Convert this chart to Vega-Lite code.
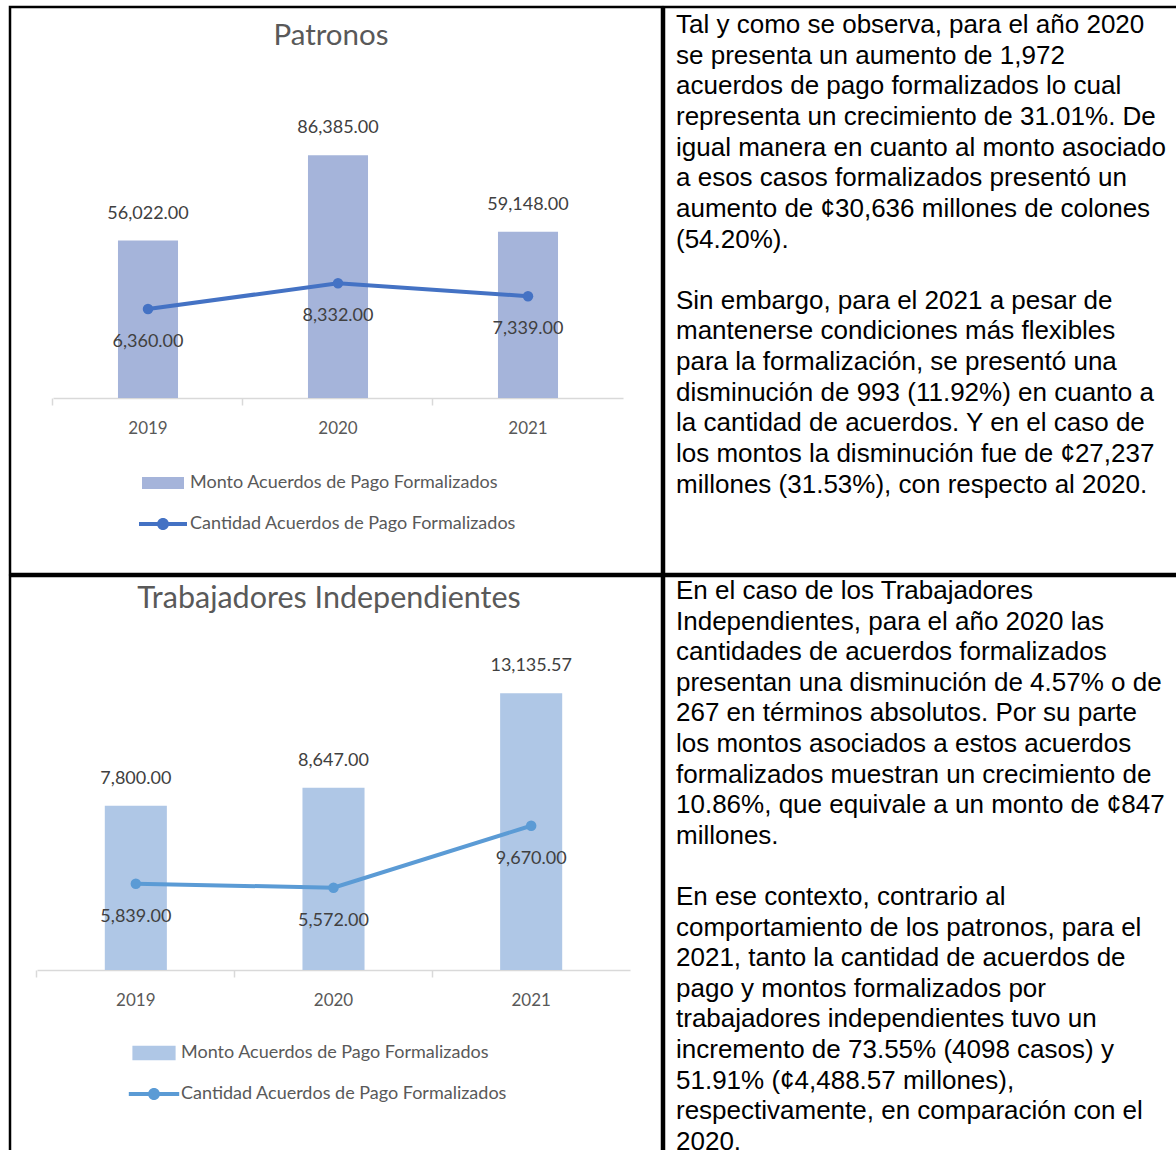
{
  "$schema": "https://vega.github.io/schema/vega-lite/v6.json",
  "padding": {"left": 8, "top": 5, "right": 0, "bottom": 0},
  "background": "white",
  "config": {
    "view": {"stroke": "black", "strokeWidth": 2.5},
    "font": "Lato"
  },
  "datasets": {
    "patronos": [
      {"anio": "2019", "monto": 56022.00, "cantidad": 6360},
      {"anio": "2020", "monto": 86385.00, "cantidad": 8332},
      {"anio": "2021", "monto": 59148.00, "cantidad": 7339}
    ],
    "independientes": [
      {"anio": "2019", "monto": 7800.00, "cantidad": 5839},
      {"anio": "2020", "monto": 8647.00, "cantidad": 5572},
      {"anio": "2021", "monto": 13135.57, "cantidad": 9670}
    ],
    "texto1": [
      {"linea": 0, "texto": "Tal y como se observa, para el año 2020"},
      {"linea": 1, "texto": "se presenta un aumento de 1,972"},
      {"linea": 2, "texto": "acuerdos de pago formalizados lo cual"},
      {"linea": 3, "texto": "representa un crecimiento de 31.01%. De"},
      {"linea": 4, "texto": "igual manera en cuanto al monto asociado"},
      {"linea": 5, "texto": "a esos casos formalizados presentó un"},
      {"linea": 6, "texto": "aumento de ¢30,636 millones de colones"},
      {"linea": 7, "texto": "(54.20%)."},
      {"linea": 9, "texto": "Sin embargo, para el 2021 a pesar de"},
      {"linea": 10, "texto": "mantenerse condiciones más flexibles"},
      {"linea": 11, "texto": "para la formalización, se presentó una"},
      {"linea": 12, "texto": "disminución de 993 (11.92%) en cuanto a"},
      {"linea": 13, "texto": "la cantidad de acuerdos. Y en el caso de"},
      {"linea": 14, "texto": "los montos la disminución fue de ¢27,237"},
      {"linea": 15, "texto": "millones (31.53%), con respecto al 2020."}
    ],
    "texto2": [
      {"linea": 0, "texto": "En el caso de los Trabajadores"},
      {"linea": 1, "texto": "Independientes, para el año 2020 las"},
      {"linea": 2, "texto": "cantidades de acuerdos formalizados"},
      {"linea": 3, "texto": "presentan una disminución de 4.57% o de"},
      {"linea": 4, "texto": "267 en términos absolutos. Por su parte"},
      {"linea": 5, "texto": "los montos asociados a estos acuerdos"},
      {"linea": 6, "texto": "formalizados muestran un crecimiento de"},
      {"linea": 7, "texto": "10.86%, que equivale a un monto de ¢847"},
      {"linea": 8, "texto": "millones."},
      {"linea": 10, "texto": "En ese contexto, contrario al"},
      {"linea": 11, "texto": "comportamiento de los patronos, para el"},
      {"linea": 12, "texto": "2021, tanto la cantidad de acuerdos de"},
      {"linea": 13, "texto": "pago y montos formalizados por"},
      {"linea": 14, "texto": "trabajadores independientes tuvo un"},
      {"linea": 15, "texto": "incremento de 73.55% (4098 casos) y"},
      {"linea": 16, "texto": "51.91% (¢4,488.57 millones),"},
      {"linea": 17, "texto": "respectivamente, en comparación con el"},
      {"linea": 18, "texto": "2020."}
    ]
  },
  "spacing": -3,
  "resolve": {"scale": {"color": "independent"}, "legend": {"color": "independent"}},
  "vconcat": [
    {
      "spacing": -3,
      "resolve": {"scale": {"color": "independent"}, "legend": {"color": "independent"}},
      "hconcat": [
        {
          "width": 652,
          "height": 567,
          "data": {"name": "patronos"},
          "title": {"text": "Patronos", "offset": -44, "fontSize": 29.5, "font": "Lato", "color": "#595959", "fontWeight": "normal", "anchor": "middle", "dx": -5},
          "layer": [
            {
              "mark": {"type": "bar", "color": "#A5B4DA"},
              "encoding": {
                "x": {
                  "field": "anio", "type": "nominal",
                  "scale": {"range": [43, 613], "paddingInner": 0.684, "paddingOuter": 0.342},
                  "axis": {"title": null, "orient": "bottom", "offset": -176, "domainColor": "#D9D9D9", "domainWidth": 1.5, "ticks": false, "labelPadding": 22, "labelFontSize": 17, "labelColor": "#595959", "labelFont": "Lato", "labelAngle": 0, "grid": false}
                },
                "y": {"field": "monto", "type": "quantitative", "scale": {"domain": [0, 100000], "range": [391, 110]}, "axis": null},
                "color": {
                  "datum": "Monto Acuerdos de Pago Formalizados",
                  "scale": {"domain": ["Monto Acuerdos de Pago Formalizados", "Cantidad Acuerdos de Pago Formalizados"], "range": ["#A5B4DA", "#4472C4"]},
                  "legend": {
                    "orient": "none", "legendX": 141, "legendY": 464, "title": null, "padding": 0,
                    "symbolSize": 576, "labelOffset": 15, "rowPadding": 20,
                    "labelFont": "Lato", "labelFontSize": 18, "labelColor": "#595959", "labelLimit": 600,
                    "encode": {"symbols": {"update": {
                      "shape": {"signal": "datum.value === 'Monto Acuerdos de Pago Formalizados' ? 'M-1.75,-0.5H1.75V0.5H-1.75Z' : 'M-2,-0.16H2V0.16H-2Z M-0.5,0A0.5,0.5 0 1,1 0.5,0A0.5,0.5 0 1,1 -0.5,0Z'"},
                      "fill": {"signal": "datum.value === 'Monto Acuerdos de Pago Formalizados' ? '#A5B4DA' : '#4472C4'"},
                      "strokeWidth": {"value": 0},
                      "opacity": {"value": 1}
                    }}}
                  }
                }
              }
            },
            {
              "mark": {"type": "text", "dy": -27, "fontSize": 18, "color": "#404040", "font": "Lato"},
              "encoding": {
                "x": {"field": "anio", "type": "nominal", "axis": null},
                "y": {"field": "monto", "type": "quantitative", "scale": {"domain": [0, 100000], "range": [391, 110]}, "axis": null},
                "text": {"field": "monto", "type": "quantitative", "format": ",.2f"}
              }
            },
            {
              "mark": {"type": "line", "strokeWidth": 4, "point": {"size": 110, "filled": true}},
              "encoding": {
                "x": {"field": "anio", "type": "nominal", "axis": null},
                "y": {"field": "cantidad", "type": "quantitative", "scale": {"domain": [0, 20000], "range": [385, 124]}, "axis": null},
                "color": {"datum": "Cantidad Acuerdos de Pago Formalizados"}
              }
            },
            {
              "mark": {"type": "text", "dy": 33, "fontSize": 18, "color": "#404040", "font": "Lato"},
              "encoding": {
                "x": {
                  "field": "anio", "type": "nominal",
                  "axis": {"title": null, "orient": "bottom", "offset": -176, "domain": false, "labels": false, "ticks": true, "tickSize": 7, "tickColor": "#D9D9D9", "tickWidth": 1.5, "bandPosition": -1.083, "grid": false}
                },
                "y": {"field": "cantidad", "type": "quantitative", "scale": {"domain": [0, 20000], "range": [385, 124]}, "axis": null},
                "text": {"field": "cantidad", "type": "quantitative", "format": ",.2f"}
              }
            }
          ],
          "resolve": {"scale": {"y": "independent"}, "axis": {"x": "independent"}}
        },
        {
          "width": 520,
          "height": 567,
          "data": {"name": "texto1"},
          "mark": {"type": "text", "align": "left", "baseline": "middle", "font": "Liberation Sans", "fontSize": 26, "color": "black", "dx": 12},
          "encoding": {
            "x": {"datum": 0, "type": "quantitative", "scale": {"domain": [0, 1]}, "axis": null},
            "y": {"field": "linea", "type": "quantitative", "scale": {"domain": [-0.587, 17.913], "reverse": true, "nice": false, "zero": false}, "axis": null},
            "text": {"field": "texto"}
          }
        }
      ]
    },
    {
      "spacing": -3,
      "resolve": {"scale": {"color": "independent"}, "legend": {"color": "independent"}},
      "hconcat": [
        {
          "width": 652,
          "height": 600,
          "data": {"name": "independientes"},
          "title": {"text": "Trabajadores Independientes", "offset": -38, "fontSize": 30.5, "font": "Lato", "color": "#595959", "fontWeight": "normal", "anchor": "middle", "dx": -7},
          "layer": [
            {
              "mark": {"type": "bar", "color": "#AFC7E6"},
              "encoding": {
                "x": {
                  "field": "anio", "type": "nominal",
                  "scale": {"range": [27, 620], "paddingInner": 0.686, "paddingOuter": 0.343},
                  "axis": {"title": null, "orient": "bottom", "offset": -206, "domainColor": "#D9D9D9", "domainWidth": 1.5, "ticks": false, "labelPadding": 22, "labelFontSize": 17, "labelColor": "#595959", "labelFont": "Lato", "labelAngle": 0, "grid": false}
                },
                "y": {"field": "monto", "type": "quantitative", "scale": {"domain": [0, 15000], "range": [394, 78]}, "axis": null},
                "color": {
                  "datum": "Monto Acuerdos de Pago Formalizados",
                  "scale": {"domain": ["Monto Acuerdos de Pago Formalizados", "Cantidad Acuerdos de Pago Formalizados"], "range": ["#AFC7E6", "#5B9BD5"]},
                  "legend": {
                    "orient": "none", "legendX": 132, "legendY": 465, "title": null, "padding": 0,
                    "symbolSize": 576, "labelOffset": 15, "rowPadding": 20,
                    "labelFont": "Lato", "labelFontSize": 18, "labelColor": "#595959", "labelLimit": 600,
                    "encode": {"symbols": {"update": {
                      "shape": {"signal": "datum.value === 'Monto Acuerdos de Pago Formalizados' ? 'M-1.8,-0.6H1.8V0.6H-1.8Z' : 'M-2.1,-0.16H2.1V0.16H-2.1Z M-0.5,0A0.5,0.5 0 1,1 0.5,0A0.5,0.5 0 1,1 -0.5,0Z'"},
                      "fill": {"signal": "datum.value === 'Monto Acuerdos de Pago Formalizados' ? '#AFC7E6' : '#5B9BD5'"},
                      "strokeWidth": {"value": 0},
                      "opacity": {"value": 1}
                    }}}
                  }
                }
              }
            },
            {
              "mark": {"type": "text", "dy": -27, "fontSize": 18, "color": "#404040", "font": "Lato"},
              "encoding": {
                "x": {"field": "anio", "type": "nominal", "axis": null},
                "y": {"field": "monto", "type": "quantitative", "scale": {"domain": [0, 15000], "range": [394, 78]}, "axis": null},
                "text": {"field": "monto", "type": "quantitative", "format": ",.2f"}
              }
            },
            {
              "mark": {"type": "line", "strokeWidth": 4, "point": {"size": 110, "filled": true}},
              "encoding": {
                "x": {"field": "anio", "type": "nominal", "axis": null},
                "y": {"field": "cantidad", "type": "quantitative", "scale": {"domain": [0, 16000], "range": [396, 154]}, "axis": null},
                "color": {"datum": "Cantidad Acuerdos de Pago Formalizados"}
              }
            },
            {
              "mark": {"type": "text", "dy": 33, "fontSize": 18, "color": "#404040", "font": "Lato"},
              "encoding": {
                "x": {
                  "field": "anio", "type": "nominal",
                  "axis": {"title": null, "orient": "bottom", "offset": -206, "domain": false, "labels": false, "ticks": true, "tickSize": 7, "tickColor": "#D9D9D9", "tickWidth": 1.5, "bandPosition": -1.094, "grid": false}
                },
                "y": {"field": "cantidad", "type": "quantitative", "scale": {"domain": [0, 16000], "range": [396, 154]}, "axis": null},
                "text": {"field": "cantidad", "type": "quantitative", "format": ",.2f"}
              }
            }
          ],
          "resolve": {"scale": {"y": "independent"}, "axis": {"x": "independent"}}
        },
        {
          "width": 520,
          "height": 600,
          "data": {"name": "texto2"},
          "mark": {"type": "text", "align": "left", "baseline": "middle", "font": "Liberation Sans", "fontSize": 26, "color": "black", "dx": 12},
          "encoding": {
            "x": {"datum": 0, "type": "quantitative", "scale": {"domain": [0, 1]}, "axis": null},
            "y": {"field": "linea", "type": "quantitative", "scale": {"domain": [-0.49, 19.118], "reverse": true, "nice": false, "zero": false}, "axis": null},
            "text": {"field": "texto"}
          }
        }
      ]
    }
  ]
}
